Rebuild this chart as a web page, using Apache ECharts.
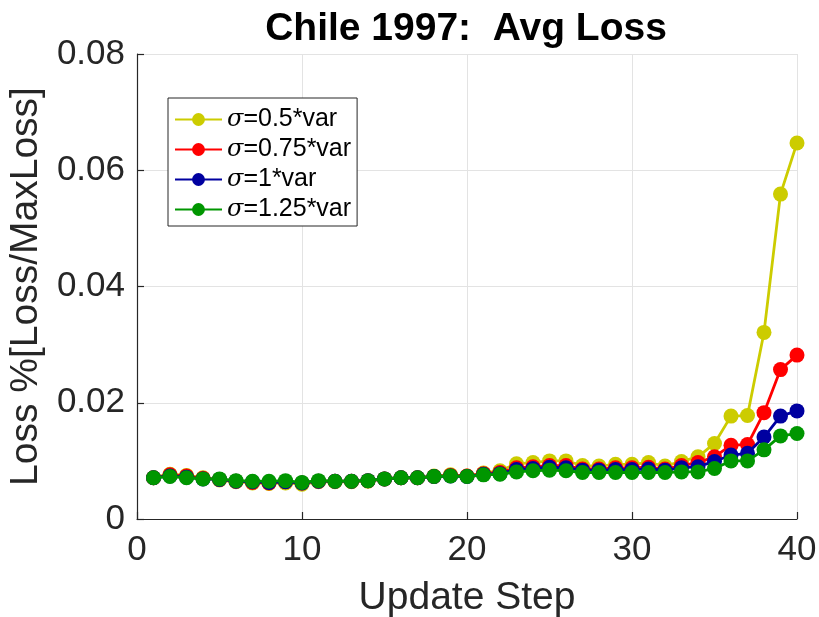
<!DOCTYPE html>
<html>
<head>
<meta charset="utf-8">
<script src="https://cdn.jsdelivr.net/npm/echarts@6/dist/echarts.min.js"></script>
<style>
  html, body { margin: 0; padding: 0; background: #fff; }
  #chart { width: 819px; height: 617px; }
</style>
</head>
<body>
<div id="chart"></div>
<script>
// Update steps 1..40
const steps = [1,2,3,4,5,6,7,8,9,10,11,12,13,14,15,16,17,18,19,20,
               21,22,23,24,25,26,27,28,29,30,31,32,33,34,35,36,37,38,39,40];

// Average loss (fraction of max loss) per sigma scaling
const loss050 = [0.0071,0.0077,0.0075,0.0071,0.0067,0.0064,0.0062,0.0061,0.0062,0.0060,
                 0.0064,0.0064,0.0064,0.0065,0.0069,0.0071,0.0071,0.0074,0.0076,0.0074,
                 0.0079,0.0083,0.0095,0.0097,0.0100,0.0100,0.0092,0.0091,0.0094,0.0094,
                 0.0097,0.0091,0.0099,0.0107,0.0130,0.0177,0.0178,0.0321,0.0559,0.0647];
const loss075 = [0.0071,0.0076,0.0074,0.0070,0.0068,0.0065,0.0063,0.0062,0.0064,0.0062,
                 0.0065,0.0065,0.0065,0.0066,0.0069,0.0071,0.0071,0.0073,0.0075,0.0074,
                 0.0078,0.0080,0.0088,0.0090,0.0092,0.0092,0.0086,0.0086,0.0088,0.0088,
                 0.0089,0.0086,0.0092,0.0097,0.0107,0.0127,0.0128,0.0183,0.0257,0.0282];
const loss100 = [0.0071,0.0074,0.0072,0.0069,0.0068,0.0065,0.0064,0.0063,0.0064,0.0062,
                 0.0065,0.0065,0.0065,0.0066,0.0069,0.0071,0.0071,0.0073,0.0074,0.0073,
                 0.0077,0.0078,0.0085,0.0087,0.0089,0.0088,0.0084,0.0084,0.0085,0.0085,
                 0.0086,0.0084,0.0088,0.0090,0.0099,0.0110,0.0113,0.0141,0.0177,0.0186];
const loss125 = [0.0071,0.0073,0.0071,0.0069,0.0069,0.0066,0.0065,0.0065,0.0066,0.0063,
                 0.0066,0.0065,0.0065,0.0066,0.0069,0.0071,0.0071,0.0073,0.0074,0.0073,
                 0.0076,0.0077,0.0081,0.0083,0.0084,0.0083,0.0080,0.0080,0.0080,0.0080,
                 0.0080,0.0080,0.0081,0.0081,0.0087,0.0100,0.0100,0.0119,0.0143,0.0147];

const seriesNames = ['σ=0.5*var', 'σ=0.75*var', 'σ=1*var', 'σ=1.25*var'];
const seriesColors = ['#cccc00', '#ff0000', '#0000a0', '#009600'];
const seriesValues = [loss050, loss075, loss100, loss125];

const xTicks = [0, 10, 20, 30, 40];
const yTicks = [0, 0.02, 0.04, 0.06, 0.08];

const FONT = '"Liberation Sans", Arial, Helvetica, sans-serif';
const AXIS_COLOR = '#262626';

const chart = echarts.init(document.getElementById('chart'), null, { renderer: 'canvas' });

const series = seriesNames.map((name, i) => ({
  name: name,
  type: 'line',
  data: steps.map((s, k) => [s, seriesValues[i][k]]),
  symbol: 'circle',
  symbolSize: 15,
  showSymbol: true,
  lineStyle: { color: seriesColors[i], width: 2.8 },
  itemStyle: { color: seriesColors[i] },
  z: 2 + i,
  animation: false
}));

chart.setOption({
  backgroundColor: '#ffffff',
  animation: false,
  title: {
    text: 'Chile 1997:  Avg Loss',
    left: 461,
    top: 5,
    textAlign: 'center',
    textStyle: { fontFamily: FONT, fontSize: 39, fontWeight: 'bold', color: '#000' }
  },
  grid: {
    left: 137, right: 22, top: 54, bottom: 98,
    containLabel: false,
    outerBoundsMode: 'none'
  },
  legend: {
    left: 168,
    top: 98,
    orient: 'vertical',
    backgroundColor: '#ffffff',
    borderColor: AXIS_COLOR,
    borderWidth: 1,
    borderRadius: 0,
    padding: [9, 6, 4, 6],
    itemGap: 5,
    itemWidth: 47,
    itemHeight: 16,
    data: seriesNames,
    formatter: function (name) {
      return '{s|σ}' + '{t|' + name.slice(1) + '}';
    },
    textStyle: {
      fontFamily: FONT,
      fontSize: 25,
      color: '#000',
      rich: {
        s: { fontFamily: '"DejaVu Serif", "Liberation Serif", serif', fontStyle: 'italic', fontSize: 24, color: '#000' },
        t: { fontFamily: FONT, fontSize: 25, color: '#000' }
      }
    }
  },
  xAxis: {
    type: 'value',
    min: 0,
    max: 40,
    interval: 10,
    name: 'Update Step',
    nameLocation: 'middle',
    nameGap: 60,
    nameTextStyle: { fontFamily: FONT, fontSize: 39, color: AXIS_COLOR },
    axisLine: { show: true, onZero: false, lineStyle: { color: AXIS_COLOR, width: 1.2 } },
    axisTick: { show: true, inside: true, length: 7, lineStyle: { color: AXIS_COLOR, width: 1.2 } },
    axisLabel: {
      margin: 14,
      fontFamily: FONT, fontSize: 35, color: AXIS_COLOR,
      formatter: v => (xTicks.indexOf(v) >= 0 ? String(v) : '')
    },
    splitLine: { show: true, lineStyle: { color: '#e3e3e3', width: 1 } }
  },
  yAxis: {
    type: 'value',
    min: 0,
    max: 0.08,
    interval: 0.02,
    name: 'Loss %[Loss/MaxLoss]',
    nameLocation: 'middle',
    nameGap: 80,
    nameTextStyle: { fontFamily: FONT, fontSize: 39, color: AXIS_COLOR },
    axisLine: { show: true, lineStyle: { color: AXIS_COLOR, width: 1.2 } },
    axisTick: { show: true, inside: true, length: 7, lineStyle: { color: AXIS_COLOR, width: 1.2 } },
    axisLabel: {
      margin: 12,
      fontFamily: FONT, fontSize: 35, color: AXIS_COLOR,
      formatter: v => {
        const t = yTicks.find(y => Math.abs(y - v) < 1e-9);
        if (t === undefined) return '';
        return t === 0 ? '0' : t.toFixed(2);
      }
    },
    splitLine: { show: true, lineStyle: { color: '#e3e3e3', width: 1 } }
  },
  series: series
});
</script>
</body>
</html>
